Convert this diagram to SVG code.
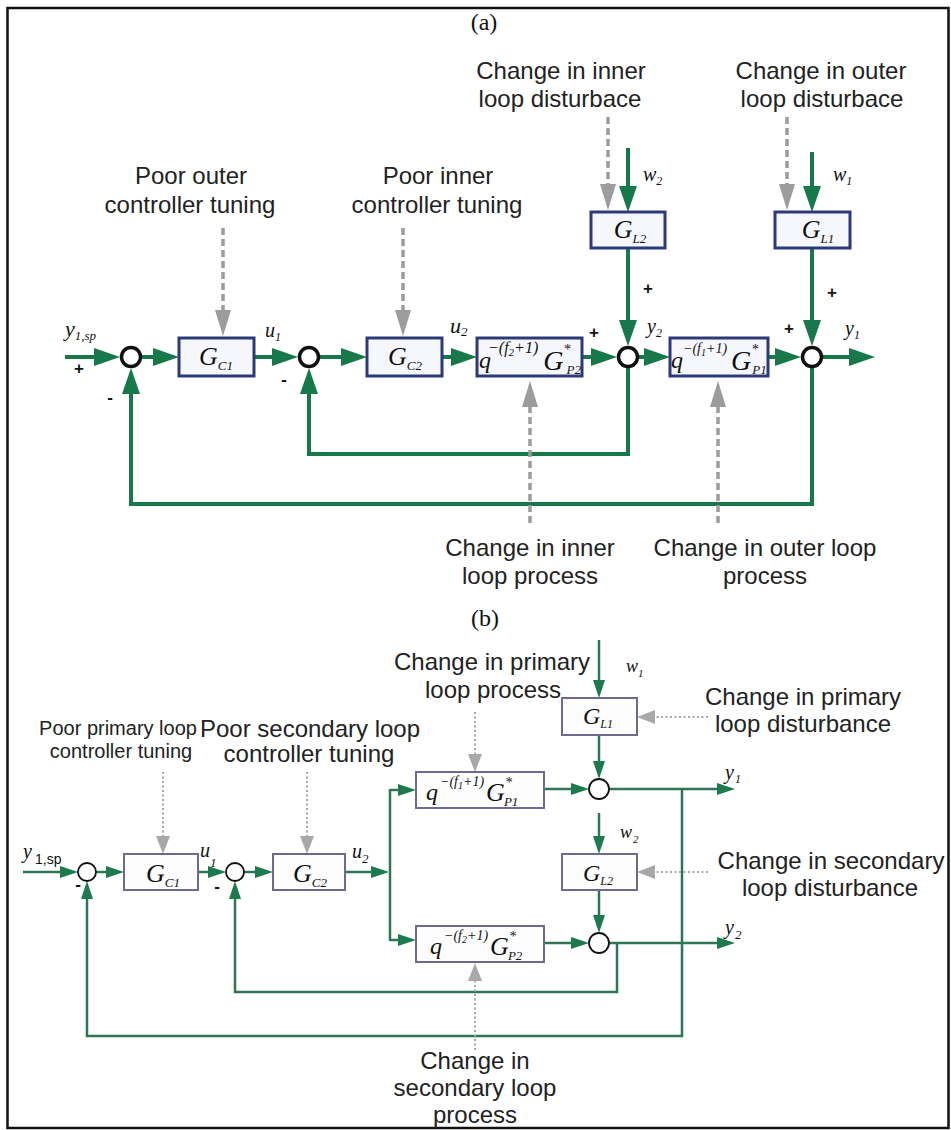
<svg xmlns="http://www.w3.org/2000/svg" width="951" height="1130" viewBox="0 0 951 1130">
<style>
.lbl{font-family:"Liberation Sans",Arial,sans-serif;font-size:24px;fill:#222;text-anchor:middle}
.sm{font-size:20px}
.ttl{font-family:"Liberation Serif","Times New Roman",serif;font-size:24px;fill:#111;text-anchor:middle}
.m{font-family:"Liberation Serif","Times New Roman",serif;font-style:italic;fill:#111}
.ms{font-family:"Liberation Sans",Arial,sans-serif;fill:#111}
.sign{font-family:"Liberation Sans",Arial,sans-serif;font-weight:bold;font-size:17px;fill:#111;text-anchor:middle}
.ba{fill:#f6f7fc;stroke:#2c3a7a;stroke-width:3}
.bb{fill:#fdfdfe;stroke:#6c6b8f;stroke-width:2}
.sa{fill:#fff;stroke:#111;stroke-width:3.5}
.sb{fill:#fff;stroke:#111;stroke-width:1.8}
.ga{fill:none;stroke:#17784a;stroke-width:4;marker-end:url(#ahA)}
.gb{fill:none;stroke:#2d7555;stroke-width:2.5;marker-end:url(#ahB)}
.gbn{fill:none;stroke:#2d7555;stroke-width:2.5}
.da{fill:none;stroke:#9c9c9c;stroke-width:3.5;stroke-dasharray:7 4;marker-end:url(#grA)}
.db{fill:none;stroke:#a8a8a8;stroke-width:2;stroke-dasharray:2 2.5;marker-end:url(#grB)}
</style>
<defs>
<marker id="ahA" markerUnits="userSpaceOnUse" markerWidth="26" markerHeight="18" refX="6" refY="9" orient="auto"><path d="M0,0 L26,9 L0,18 z" fill="#17784a"/></marker>
<marker id="grA" markerUnits="userSpaceOnUse" markerWidth="26" markerHeight="16" refX="6" refY="8" orient="auto"><path d="M0,0 L26,8 L0,16 z" fill="#9c9c9c"/></marker>
<marker id="ahB" markerUnits="userSpaceOnUse" markerWidth="18" markerHeight="12" refX="4" refY="6" orient="auto"><path d="M0,0 L18,6 L0,12 z" fill="#1c7a4c"/></marker>
<marker id="grB" markerUnits="userSpaceOnUse" markerWidth="18" markerHeight="14" refX="4" refY="7" orient="auto"><path d="M0,0 L18,7 L0,14 z" fill="#a8a8a8"/></marker>
</defs>
<rect x="0" y="0" width="951" height="1130" fill="#fff"/>
<rect x="7.5" y="8" width="941" height="1120" fill="none" stroke="#111" stroke-width="2.5"/>

<!-- ===== (a) ===== -->
<text class="ttl" x="484" y="30">(a)</text>

<g id="a-connectors">
<path class="ga" d="M65,357 H100"/>
<path class="ga" d="M142,357 H159"/>
<path class="ga" d="M254,357 H278"/>
<path class="ga" d="M320,357 H347"/>
<path class="ga" d="M442,357 H457"/>
<path class="ga" d="M582,357 H597"/>
<path class="ga" d="M639,357 H650"/>
<path class="ga" d="M768,357 H781"/>
<path class="ga" d="M823,357 H855"/>
<path class="ga" d="M628,148 V192"/>
<path class="ga" d="M628,248 V326"/>
<path class="ga" d="M812,152 V192"/>
<path class="ga" d="M812,248 V326"/>
<path class="ga" d="M628,368 V454 H309 V388"/>
<path class="ga" d="M812,368 V504 H131 V388"/>
<path class="da" d="M223,228 V316"/>
<path class="da" d="M403,228 V316"/>
<path class="da" d="M608,117 V190"/>
<path class="da" d="M787,117 V190"/>
<path class="da" d="M530,523 V401"/>
<path class="da" d="M718,523 V401"/>
</g>

<g id="a-sum1"><circle class="sa" cx="131" cy="357" r="9.5"/></g>
<g id="a-sum2"><circle class="sa" cx="309" cy="357" r="9.5"/></g>
<g id="a-sum3"><circle class="sa" cx="628" cy="357" r="9.5"/></g>
<g id="a-sum4"><circle class="sa" cx="812" cy="357" r="9.5"/></g>

<g id="a-GC1"><rect class="ba" x="179" y="338" width="75" height="38"/>
<text class="m" x="216" y="365" font-size="26" text-anchor="middle">G<tspan font-size="13" dy="5">C1</tspan></text></g>
<g id="a-GC2"><rect class="ba" x="367" y="338" width="75" height="38"/>
<text class="m" x="405" y="365" font-size="26" text-anchor="middle">G<tspan font-size="13" dy="5">C2</tspan></text></g>
<g id="a-GP2"><rect class="ba" x="477" y="338" width="105" height="38"/>
<text class="m" x="479" y="368" font-size="24">q<tspan font-size="16" dy="-15" dx="-3">−(f</tspan><tspan font-size="11" dy="3">2</tspan><tspan font-size="16" dy="-3">+1)</tspan><tspan font-size="28" dy="17" dx="5">G</tspan><tspan font-size="14" dy="-16">*</tspan><tspan font-size="13" dx="-4" dy="20">P2</tspan></text></g>
<g id="a-GP1"><rect class="ba" x="670" y="338" width="98" height="38"/>
<text class="m" x="671" y="368" font-size="24">q<tspan font-size="14" dy="-15">−(f</tspan><tspan font-size="10" dy="3">1</tspan><tspan font-size="14" dy="-3">+1)</tspan><tspan font-size="28" dy="17" dx="4">G</tspan><tspan font-size="14" dy="-16">*</tspan><tspan font-size="13" dx="-6" dy="20">P1</tspan></text></g>
<g id="a-GL2"><rect class="ba" x="591" y="212" width="74" height="36"/>
<text class="m" x="630" y="238" font-size="26" text-anchor="middle">G<tspan font-size="13" dy="5">L2</tspan></text></g>
<g id="a-GL1"><rect class="ba" x="775" y="212" width="75" height="36"/>
<text class="m" x="818" y="238" font-size="26" text-anchor="middle">G<tspan font-size="13" dy="5">L1</tspan></text></g>

<g id="a-signals">
<text class="m" x="65" y="336" font-size="22">y<tspan font-size="13" dy="4">1,sp</tspan></text>
<text class="m" x="265" y="337" font-size="20">u<tspan font-size="12" dy="4">1</tspan></text>
<text class="m" x="450" y="333" font-size="22">u<tspan font-size="13" dy="3">2</tspan></text>
<text class="m" x="647" y="333" font-size="20">y<tspan font-size="12" dy="4">2</tspan></text>
<text class="m" x="845" y="335" font-size="20">y<tspan font-size="12" dy="4">1</tspan></text>
<text class="m" x="643" y="181" font-size="20">w<tspan font-size="12" dy="4">2</tspan></text>
<text class="m" x="833" y="181" font-size="20">w<tspan font-size="12" dy="4">1</tspan></text>
<text class="sign" x="79" y="374">+</text>
<text class="sign" x="110" y="403">-</text>
<text class="sign" x="284" y="385">-</text>
<text class="sign" x="594" y="338">+</text>
<text class="sign" x="789" y="334">+</text>
<text class="sign" x="648" y="294">+</text>
<text class="sign" x="832" y="298">+</text>
</g>

<g id="a-lbl-outer-tune" class="lbl"><text x="191" y="184">Poor outer</text><text x="190" y="213">controller tuning</text></g>
<g id="a-lbl-inner-tune" class="lbl"><text x="438" y="184">Poor inner</text><text x="437" y="213">controller tuning</text></g>
<g id="a-lbl-inner-dist" class="lbl"><text x="561" y="79">Change in inner</text><text x="560" y="107">loop disturbace</text></g>
<g id="a-lbl-outer-dist" class="lbl"><text x="821" y="79">Change in outer</text><text x="822" y="107">loop disturbace</text></g>
<g id="a-lbl-inner-proc" class="lbl"><text x="530" y="556">Change in inner</text><text x="530" y="584">loop process</text></g>
<g id="a-lbl-outer-proc" class="lbl"><text x="765" y="556">Change in outer loop</text><text x="765" y="584">process</text></g>

<!-- ===== (b) ===== -->
<text class="ttl" x="485" y="626">(b)</text>

<g id="b-connectors">
<path class="gb" d="M23,872 H64"/>
<path class="gb" d="M96,872 H110"/>
<path class="gb" d="M198,872 H212"/>
<path class="gb" d="M244,872 H259"/>
<path class="gb" d="M345,872 H375"/>
<path class="gbn" d="M390,789 V941"/>
<path class="gb" d="M390,790 H402"/>
<path class="gb" d="M390,940 H402"/>
<path class="gb" d="M544,789 H575"/>
<path class="gb" d="M608,789 H721"/>
<path class="gb" d="M599,640 V684"/>
<path class="gb" d="M599,735 V765"/>
<path class="gb" d="M599,813 V840"/>
<path class="gb" d="M599,890 V919"/>
<path class="gb" d="M544,943 H575"/>
<path class="gb" d="M608,943 H721"/>
<path class="gb" d="M617,943 V992 H235 V895"/>
<path class="gb" d="M682,789 V1036 H87 V895"/>
<path class="db" d="M163,772 V840"/>
<path class="db" d="M307,772 V840"/>
<path class="db" d="M475,712 V758"/>
<path class="db" d="M708,717 H651"/>
<path class="db" d="M708,872 H651"/>
<path class="db" d="M475,1050 V977"/>
</g>

<g id="b-sum1"><circle class="sb" cx="87" cy="872" r="9"/></g>
<g id="b-sum2"><circle class="sb" cx="235" cy="872" r="9"/></g>
<g id="b-sum3"><circle class="sb" cx="599" cy="789" r="10"/></g>
<g id="b-sum4"><circle class="sb" cx="599" cy="943" r="10"/></g>

<g id="b-GC1"><rect class="bb" x="124" y="854" width="74" height="36"/>
<text class="m" x="163" y="882" font-size="26" text-anchor="middle">G<tspan font-size="13" dy="5">C1</tspan></text></g>
<g id="b-GC2"><rect class="bb" x="273" y="854" width="72" height="36"/>
<text class="m" x="310" y="882" font-size="26" text-anchor="middle">G<tspan font-size="13" dy="5">C2</tspan></text></g>
<g id="b-GP1"><rect class="bb" x="416" y="772" width="128" height="36"/>
<text class="m" x="426" y="800" font-size="24">q<tspan font-size="14" dy="-14" dx="2">−(f</tspan><tspan font-size="10" dy="3">1</tspan><tspan font-size="14" dy="-3">+1)</tspan><tspan font-size="26" dy="15" dx="2">G</tspan><tspan font-size="14" dy="-14">*</tspan><tspan font-size="13" dx="-8" dy="19">P1</tspan></text></g>
<g id="b-GP2"><rect class="bb" x="416" y="926" width="128" height="36"/>
<text class="m" x="430" y="954" font-size="24">q<tspan font-size="14" dy="-14" dx="2">−(f</tspan><tspan font-size="10" dy="3">2</tspan><tspan font-size="14" dy="-3">+1)</tspan><tspan font-size="26" dy="15" dx="2">G</tspan><tspan font-size="14" dy="-14">*</tspan><tspan font-size="13" dx="-8" dy="19">P2</tspan></text></g>
<g id="b-GL1"><rect class="bb" x="562" y="698" width="75" height="37"/>
<text class="m" x="598" y="724" font-size="24" text-anchor="middle">G<tspan font-size="12" dy="4">L1</tspan></text></g>
<g id="b-GL2"><rect class="bb" x="562" y="854" width="75" height="36"/>
<text class="m" x="598" y="881" font-size="24" text-anchor="middle">G<tspan font-size="12" dy="4">L2</tspan></text></g>

<g id="b-signals">
<text class="m" x="23" y="858" font-size="20">y</text><text class="ms" x="35" y="864" font-size="14">1,sp</text>
<text class="m" x="200" y="857" font-size="20">u</text><text class="m" x="210" y="867" font-size="13">1</text>
<text class="m" x="352" y="858" font-size="20">u</text><text class="m" x="362" y="863" font-size="13">2</text>
<text class="m" x="725" y="779" font-size="20">y</text><text class="m" x="735" y="783" font-size="12">1</text>
<text class="m" x="626" y="672" font-size="18">w</text><text class="m" x="638" y="677" font-size="11">1</text>
<text class="m" x="620" y="838" font-size="18">w</text><text class="m" x="633" y="843" font-size="11">2</text>
<text class="m" x="725" y="934" font-size="20">y</text><text class="m" x="735" y="939" font-size="13">2</text>
<text class="sign" x="78" y="890">-</text>
<text class="sign" x="217" y="892">-</text>
</g>

<g id="b-lbl-prim-tune" class="lbl sm"><text x="118" y="735">Poor primary loop</text><text x="121" y="758">controller tuning</text></g>
<g id="b-lbl-sec-tune" class="lbl"><text x="310" y="737">Poor secondary loop</text><text x="309" y="762">controller tuning</text></g>
<g id="b-lbl-prim-proc" class="lbl"><text x="492" y="670">Change in primary</text><text x="493" y="698">loop process</text></g>
<g id="b-lbl-prim-dist" class="lbl"><text x="803" y="705">Change in primary</text><text x="803" y="732">loop disturbance</text></g>
<g id="b-lbl-sec-dist" class="lbl"><text x="831" y="869">Change in secondary</text><text x="830" y="896">loop disturbance</text></g>
<g id="b-lbl-sec-proc" class="lbl"><text x="475" y="1069">Change in</text><text x="475" y="1096">secondary loop</text><text x="475" y="1123">process</text></g>
</svg>
